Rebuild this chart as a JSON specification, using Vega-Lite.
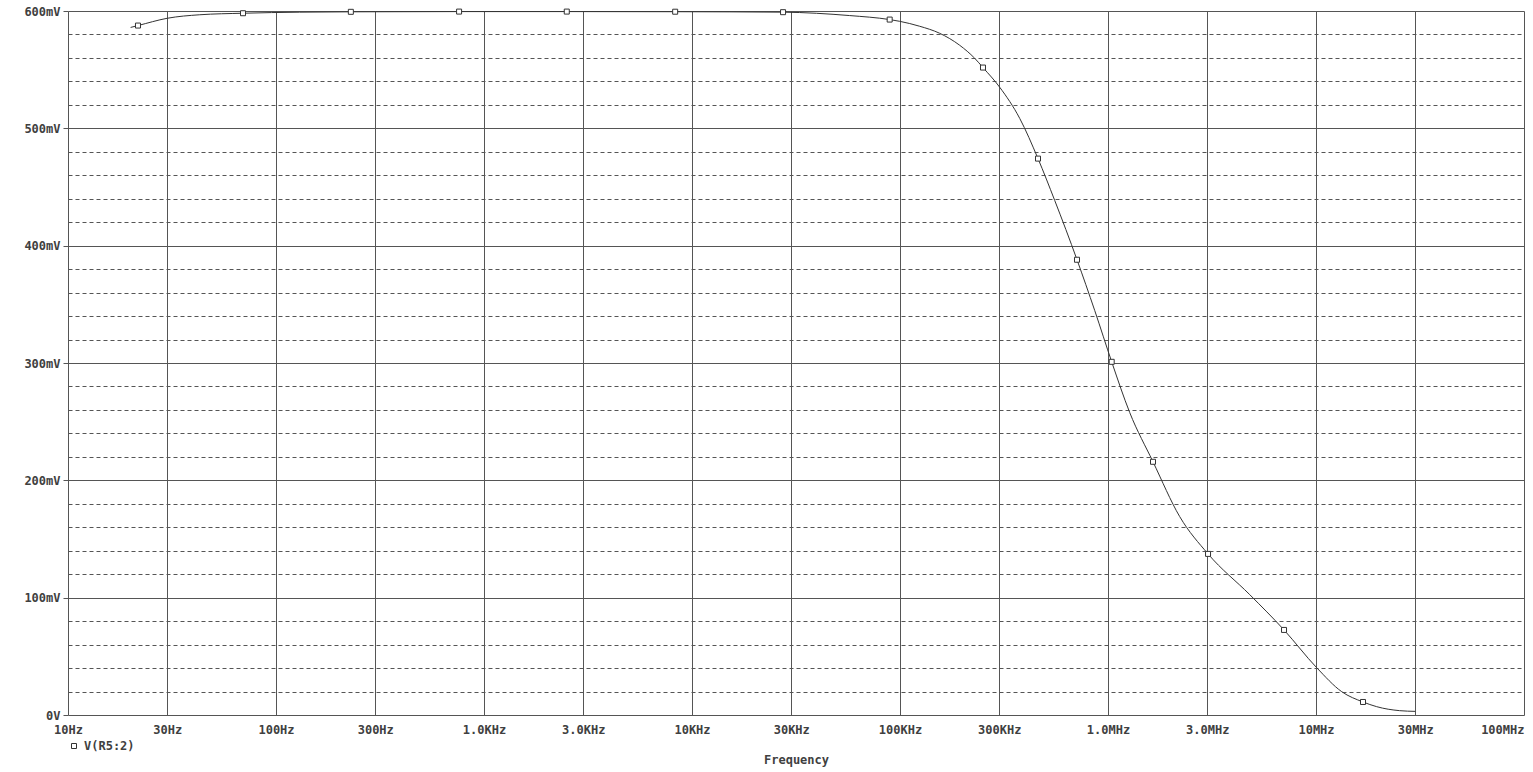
{
  "$schema": "https://vega.github.io/schema/vega-lite/v6.json",
  "width": 1456,
  "height": 704,
  "autosize": {"type": "none"},
  "padding": {"left": 68, "top": 11, "right": 9, "bottom": 57},
  "background": "white",
  "config": {
    "view": {"stroke": null},
    "font": "DejaVu Sans Mono"
  },
  "datasets": {
    "trace": [
      {"f": 20, "v": 586},
      {"f": 21.7, "v": 587.6},
      {"f": 30, "v": 593.8},
      {"f": 43, "v": 596.8},
      {"f": 69.4, "v": 598.1},
      {"f": 130, "v": 599},
      {"f": 229, "v": 599.3},
      {"f": 759, "v": 599.5},
      {"f": 2500, "v": 599.5},
      {"f": 8300, "v": 599.4},
      {"f": 27400, "v": 599},
      {"f": 57300, "v": 596.1},
      {"f": 89210, "v": 592.7},
      {"f": 99700, "v": 591.2},
      {"f": 124360, "v": 587.0},
      {"f": 155200, "v": 581.0},
      {"f": 193640, "v": 570.8},
      {"f": 228640, "v": 559.7},
      {"f": 250600, "v": 551.8},
      {"f": 301600, "v": 535.0},
      {"f": 376300, "v": 508.5},
      {"f": 460800, "v": 474.2},
      {"f": 554300, "v": 438.6},
      {"f": 709600, "v": 388.0},
      {"f": 863100, "v": 344.8},
      {"f": 1041800, "v": 301.0},
      {"f": 1271600, "v": 257.8},
      {"f": 1645700, "v": 215.8},
      {"f": 2211500, "v": 169.1},
      {"f": 3026500, "v": 137.3},
      {"f": 4800300, "v": 102.6},
      {"f": 7019000, "v": 72.5},
      {"f": 10079000, "v": 40.3},
      {"f": 13291000, "v": 19.9},
      {"f": 16827000, "v": 11.1},
      {"f": 19575000, "v": 7.1},
      {"f": 25253000, "v": 3.7},
      {"f": 30000000, "v": 3.1}
    ],
    "markers": [
      {"f": 21.7, "v": 587.6},
      {"f": 69.4, "v": 598.1},
      {"f": 229, "v": 599.3},
      {"f": 759, "v": 599.5},
      {"f": 2500, "v": 599.5},
      {"f": 8300, "v": 599.4},
      {"f": 27400, "v": 599},
      {"f": 89210, "v": 592.7},
      {"f": 250600, "v": 551.8},
      {"f": 460800, "v": 474.2},
      {"f": 709600, "v": 388.0},
      {"f": 1041800, "v": 301.0},
      {"f": 1645700, "v": 215.8},
      {"f": 3026500, "v": 137.3},
      {"f": 7019000, "v": 72.5},
      {"f": 16827000, "v": 11.1}
    ]
  },
  "encoding": {
    "x": {
      "field": "f",
      "type": "quantitative",
      "scale": {"type": "log", "domain": [10, 100000000], "nice": false},
      "axis": {
        "values": [10, 30, 100, 300, 1000, 3000, 10000, 30000, 100000, 300000, 1000000, 3000000, 10000000, 30000000, 100000000],
        "labelExpr": "datum.value >= 1e6 ? (datum.value < 1e7 ? format(datum.value/1e6, '.1f') : format(datum.value/1e6, 'd')) + 'MHz' : datum.value >= 1e3 ? (datum.value < 1e4 ? format(datum.value/1e3, '.1f') : format(datum.value/1e3, 'd')) + 'KHz' : format(datum.value, 'd') + 'Hz'",
        "grid": true,
        "gridColor": "#555555",
        "gridWidth": 1,
        "gridOpacity": 1,
        "domain": false,
        "ticks": false,
        "labelPadding": 9,
        "labelFlush": false,
        "labelOverlap": false,
        "labelAlign": {"condition": {"test": "datum.value >= 1e8", "value": "right"}, "value": "center"},
        "labelFont": "DejaVu Sans Mono",
        "labelFontSize": 12,
        "labelFontWeight": "bold",
        "labelColor": "#404040",
        "title": "Frequency",
        "titleFont": "DejaVu Sans Mono",
        "titleFontSize": 12,
        "titleFontWeight": "bold",
        "titleColor": "#404040",
        "titleY": 44,
        "titleBaseline": "middle"
      }
    },
    "y": {
      "field": "v",
      "type": "quantitative",
      "scale": {"domain": [0, 600], "nice": false, "zero": true},
      "axis": {
        "values": [0, 20, 40, 60, 80, 100, 120, 140, 160, 180, 200, 220, 240, 260, 280, 300, 320, 340, 360, 380, 400, 420, 440, 460, 480, 500, 520, 540, 560, 580, 600],
        "labelExpr": "datum.value % 100 === 0 ? (datum.value === 0 ? '0V' : datum.value + 'mV') : ''",
        "grid": true,
        "gridColor": "#555555",
        "gridWidth": 1,
        "gridOpacity": 1,
        "gridDash": {"condition": {"test": "datum.value % 100 !== 0", "value": [4, 3]}, "value": []},
        "domain": false,
        "ticks": true,
        "tickColor": "#555555",
        "tickSize": {"condition": {"test": "datum.value % 100 !== 0", "value": 0}, "value": 5},
        "labelPadding": 3,
        "labelFlush": false,
        "labelOverlap": false,
        "labelFont": "DejaVu Sans Mono",
        "labelFontSize": 12,
        "labelFontWeight": "bold",
        "labelColor": "#404040",
        "title": null
      }
    }
  },
  "layer": [
    {
      "data": {"name": "trace"},
      "mark": {"type": "line", "color": "#333333", "strokeWidth": 1, "interpolate": "monotone"}
    },
    {
      "data": {"name": "markers"},
      "mark": {"type": "point", "shape": "square", "size": 25, "filled": true, "fill": "white", "strokeWidth": 1, "opacity": 1},
      "encoding": {
        "stroke": {
          "datum": "V(R5:2)",
          "scale": {"range": ["#333333"]},
          "legend": {
            "orient": "none",
            "legendX": 0,
            "legendY": 729,
            "title": null,
            "symbolType": "square",
            "symbolSize": 25,
            "symbolFillColor": "white",
            "symbolStrokeWidth": 1,
            "labelFont": "DejaVu Sans Mono",
            "labelFontSize": 12,
            "labelFontWeight": "bold",
            "labelColor": "#404040",
            "labelOffset": 4,
            "padding": 0
          }
        }
      }
    }
  ]
}
